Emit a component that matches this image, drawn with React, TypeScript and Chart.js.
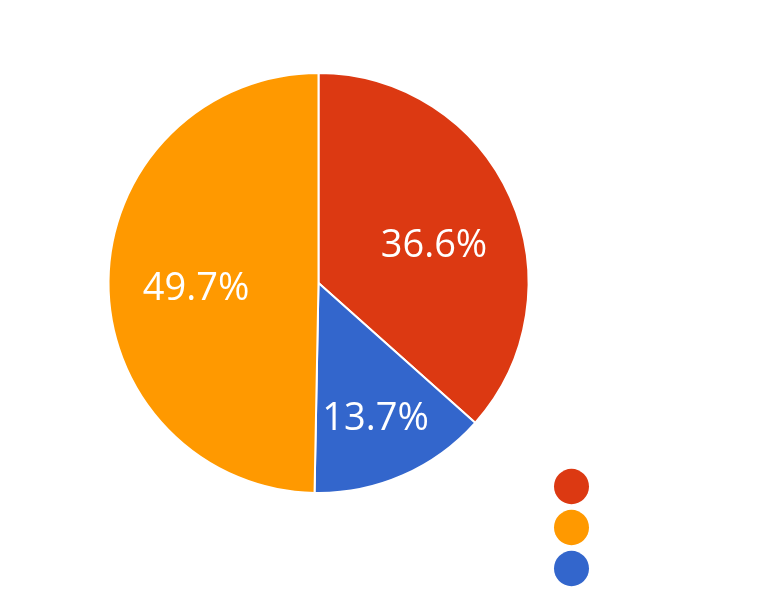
import React, { useEffect, useRef } from "react";
import { Chart, registerables } from "chart.js";

Chart.register(...registerables);

// Data (pie drawn clockwise from top in this order)
const categories = ["", "", ""];
const seriesValues = [36.6, 13.7, 49.7];
const sliceColors = ["#DC3912", "#3366CC", "#FF9900"];
// legend shows slices in this order
const legendOrder = [0, 2, 1];

// label placement style (fraction along slice angle, fraction of radius)
const labelAngleFrac = [0.538, 0.507, 0.489];
const labelRadiusFrac = [0.582, 0.689, 0.583];

const pctLabelPlugin = {
  id: "pctLabels",
  afterDatasetsDraw(chart: any) {
    const ctx = chart.ctx;
    const meta = chart.getDatasetMeta(0);
    const values: number[] = chart.data.datasets[0].data;
    const total = values.reduce((a, b) => a + b, 0);
    const size = 38;
    ctx.save();
    ctx.fillStyle = "#ffffff";
    ctx.font = `${size}px 'Open Sans'`;
    ctx.textAlign = "center";
    ctx.textBaseline = "alphabetic";
    meta.data.forEach((arc: any, i: number) => {
      const p = arc.getProps(["x", "y", "startAngle", "endAngle", "outerRadius"], true);
      const a = p.startAngle + labelAngleFrac[i] * (p.endAngle - p.startAngle);
      const r = labelRadiusFrac[i] * p.outerRadius;
      const cx = p.x + Math.cos(a) * r;
      const cy = p.y + Math.sin(a) * r;
      const txt = ((values[i] / total) * 100).toFixed(1) + "%";
      ctx.fillText(txt, cx, cy + size * 0.357);
    });
    ctx.restore();
  },
};

export default function App() {
  const ref = useRef<HTMLCanvasElement | null>(null);
  useEffect(() => {
    if (!ref.current) return;
    const chart = new Chart(ref.current, {
      type: "pie",
      data: {
        labels: categories,
        datasets: [
          {
            data: seriesValues,
            backgroundColor: sliceColors,
            borderColor: "#ffffff",
            borderWidth: 2,
            radius: 210,
          },
        ],
      },
      options: {
        responsive: false,
        animation: false,
        layout: { padding: { left: 99, top: 0, bottom: 8, right: 158.5 } },
        plugins: {
          tooltip: { enabled: false },
          legend: {
            position: "right",
            align: "end",
            labels: {
              usePointStyle: true,
              pointStyle: "circle",
              pointStyleWidth: 35,
              boxHeight: 25,
              padding: 16,
              font: { size: 25, family: "'Open Sans'" },
              color: "#222222",
              generateLabels(c: any) {
                const ds = c.data.datasets[0];
                return legendOrder.map((i) => ({
                  text: c.data.labels[i],
                  fillStyle: ds.backgroundColor[i],
                  strokeStyle: ds.backgroundColor[i],
                  lineWidth: 0,
                  pointStyle: "circle",
                  hidden: false,
                  index: i,
                }));
              },
            },
          },
        },
      },
      plugins: [pctLabelPlugin],
    });
    return () => chart.destroy();
  }, []);
  return (
    <div style={{ position: "absolute", left: 0, top: -31, width: 770, height: 636 }}>
      <canvas ref={ref} width={770} height={636} />
    </div>
  );
}
